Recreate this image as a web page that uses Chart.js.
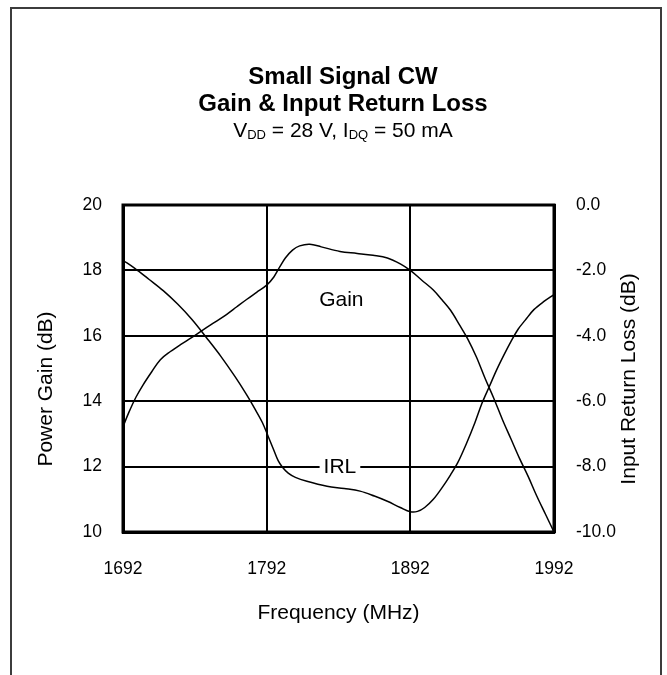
<!DOCTYPE html>
<html>
<head>
<meta charset="utf-8">
<script src="https://cdn.jsdelivr.net/npm/chart.js@4/dist/chart.umd.min.js"></script>
<style>
  html, body { margin: 0; padding: 0; background: #fff; }
  #wrap { position: relative; width: 667px; height: 675px; overflow: hidden; }
  canvas { display: block; }
</style>
</head>
<body>
<div id="wrap"><canvas id="c" width="667" height="675"></canvas></div>
<script>
// ---- Data ----
const gainFreq = [1692,1696,1701,1706,1712,1718,1725,1732,1740,1748,1756,1764,1771,1778,1785,1792,1797,1801,1805,1810,1815,1822,1830,1843,1855,1866,1876,1885,1892,1900,1908,1914,1920,1926,1932,1938,1944,1950,1956,1962,1968,1974,1980,1986,1992];
const gainDb   = [13.22,13.65,14.12,14.5,14.9,15.27,15.52,15.73,15.95,16.19,16.42,16.65,16.88,17.11,17.33,17.55,17.8,18.1,18.38,18.62,18.75,18.8,18.72,18.58,18.52,18.46,18.38,18.2,18.0,17.7,17.4,17.1,16.78,16.35,15.9,15.35,14.7,14.1,13.45,12.85,12.25,11.7,11.1,10.55,10.0];

const irlFreq = [1692,1700,1710,1720,1730,1740,1750,1760,1770,1778,1784,1789,1793,1797,1800,1803,1807,1812,1820,1834,1846,1857,1867,1876,1885,1892,1897,1902,1908,1914,1920,1925,1931,1937,1942,1947,1952,1957,1962,1967,1972,1978,1985,1992];
const irlDb   = [-1.69,-1.93,-2.27,-2.62,-3.03,-3.5,-4.05,-4.62,-5.25,-5.8,-6.25,-6.65,-7.07,-7.5,-7.82,-8.02,-8.2,-8.33,-8.45,-8.6,-8.67,-8.75,-8.9,-9.06,-9.25,-9.38,-9.37,-9.25,-9.0,-8.65,-8.25,-7.88,-7.3,-6.65,-6.05,-5.55,-5.05,-4.6,-4.18,-3.8,-3.52,-3.2,-2.95,-2.74];

const xTicks = [1692, 1792, 1892, 1992];
const gainTicks = [10, 12, 14, 16, 18, 20];
const irlTicks = [-10, -8, -6, -4, -2, 0];

const titleLines = ['Small Signal CW', 'Gain & Input Return Loss'];
const xTitle = 'Frequency (MHz)';
const yTitle = 'Power Gain (dB)';
const y2Title = 'Input Return Loss (dB)';

// ---- Chart ----
const FONT = '"Liberation Sans", Arial, sans-serif';

const decor = {
  id: 'decor',
  beforeDraw(chart) {
    const ctx = chart.ctx;
    ctx.save();
    ctx.fillStyle = '#fff';
    ctx.fillRect(0, 0, chart.width, chart.height);
    ctx.strokeStyle = '#3c3c3c';
    ctx.lineWidth = 2;
    ctx.strokeRect(11, 8, 650, 720);
    ctx.restore();
  },
  afterDatasetsDraw(chart) {
    const ctx = chart.ctx;
    const a = chart.chartArea;
    const sx = chart.scales.x, sy = chart.scales.y;
    ctx.save();
    ctx.strokeStyle = '#000';
    ctx.lineWidth = 3;
    ctx.strokeRect(a.left, a.top, a.right - a.left, a.bottom - a.top);
    ctx.fillStyle = '#000';
    ctx.font = '21px ' + FONT;
    ctx.textAlign = 'center';
    ctx.textBaseline = 'alphabetic';
    ctx.fillText('Gain', sx.getPixelForValue(1844), sy.getPixelForValue(16.9));
    const ix = sx.getPixelForValue(1843), iy = sy.getPixelForValue(12);
    const w = ctx.measureText('IRL').width;
    ctx.fillStyle = '#fff';
    ctx.fillRect(ix - w / 2 - 4, iy - 12, w + 8, 22);
    ctx.fillStyle = '#000';
    ctx.fillText('IRL', ix, iy + 6);
    ctx.restore();
  },
  afterDraw(chart) {
    const ctx = chart.ctx;
    const a = chart.chartArea;
    const cx = 343;
    ctx.save();
    ctx.fillStyle = '#000';
    ctx.textAlign = 'center';
    ctx.textBaseline = 'alphabetic';
    ctx.font = 'bold 24px ' + FONT;
    ctx.fillText(titleLines[0], cx, 84);
    ctx.fillText(titleLines[1], cx, 111);
    // subtitle with subscripts
    const parts = [
      ['V', 21, 0], ['DD', 13, 2], [' = 28 V, I', 21, 0], ['DQ', 13, 2], [' = 50 mA', 21, 0]
    ];
    let total = 0;
    parts.forEach(p => { ctx.font = p[1] + 'px ' + FONT; total += ctx.measureText(p[0]).width; });
    let x = cx - total / 2;
    ctx.textAlign = 'left';
    parts.forEach(p => {
      ctx.font = p[1] + 'px ' + FONT;
      ctx.fillText(p[0], x, 137 + p[2]);
      x += ctx.measureText(p[0]).width;
    });
    // axis titles
    ctx.font = '21px ' + FONT;
    ctx.textAlign = 'center';
    ctx.fillText(xTitle, (a.left + a.right) / 2, 619);
    ctx.textBaseline = 'middle';
    ctx.save();
    ctx.translate(46, 389);
    ctx.rotate(-Math.PI / 2);
    ctx.fillText(yTitle, 0, 0);
    ctx.restore();
    ctx.save();
    ctx.translate(629, 379);
    ctx.rotate(-Math.PI / 2);
    ctx.fillText(y2Title, 0, 0);
    ctx.restore();
    ctx.restore();
  }
};

const toXY = (xs, ys) => xs.map((v, i) => ({ x: v, y: ys[i] }));
const tickFont = { family: FONT, size: 17.5 };

new Chart(document.getElementById('c'), {
  type: 'line',
  data: {
    datasets: [
      { label: 'Gain', data: toXY(gainFreq, gainDb), yAxisID: 'y', borderColor: '#000', borderWidth: 1.5, pointRadius: 0, tension: 0.35, fill: false },
      { label: 'IRL', data: toXY(irlFreq, irlDb), yAxisID: 'y1', borderColor: '#000', borderWidth: 1.5, pointRadius: 0, tension: 0.35, fill: false }
    ]
  },
  options: {
    responsive: false,
    animation: false,
    devicePixelRatio: 1,
    layout: { padding: { top: 205, left: 0, right: 0, bottom: 0 } },
    plugins: { legend: { display: false }, tooltip: { enabled: false }, title: { display: false } },
    scales: {
      x: {
        type: 'linear', min: xTicks[0], max: xTicks[xTicks.length - 1],
        afterBuildTicks: s => { s.ticks = xTicks.map(v => ({ value: v })); },
        afterFit: s => { s.height = 143; },
        ticks: { color: '#000', font: tickFont, padding: 27, callback: v => String(v) },
        grid: { color: '#000', lineWidth: 2, drawTicks: false },
        border: { color: '#000', width: 3 }
      },
      y: {
        position: 'left', min: gainTicks[0], max: gainTicks[gainTicks.length - 1],
        afterBuildTicks: s => { s.ticks = gainTicks.map(v => ({ value: v })); },
        afterFit: s => { s.width = 123; },
        ticks: { color: '#000', font: tickFont, padding: 21, callback: v => String(v) },
        grid: { color: '#000', lineWidth: 2, drawTicks: false },
        border: { color: '#000', width: 3 }
      },
      y1: {
        position: 'right', min: irlTicks[0], max: irlTicks[irlTicks.length - 1],
        afterBuildTicks: s => { s.ticks = irlTicks.map(v => ({ value: v })); },
        afterFit: s => { s.width = 113; },
        ticks: { color: '#000', font: tickFont, padding: 22, callback: v => Number(v).toFixed(1) },
        grid: { display: false, drawTicks: false },
        border: { color: '#000', width: 3 }
      }
    }
  },
  plugins: [decor]
});
</script>
</body>
</html>
